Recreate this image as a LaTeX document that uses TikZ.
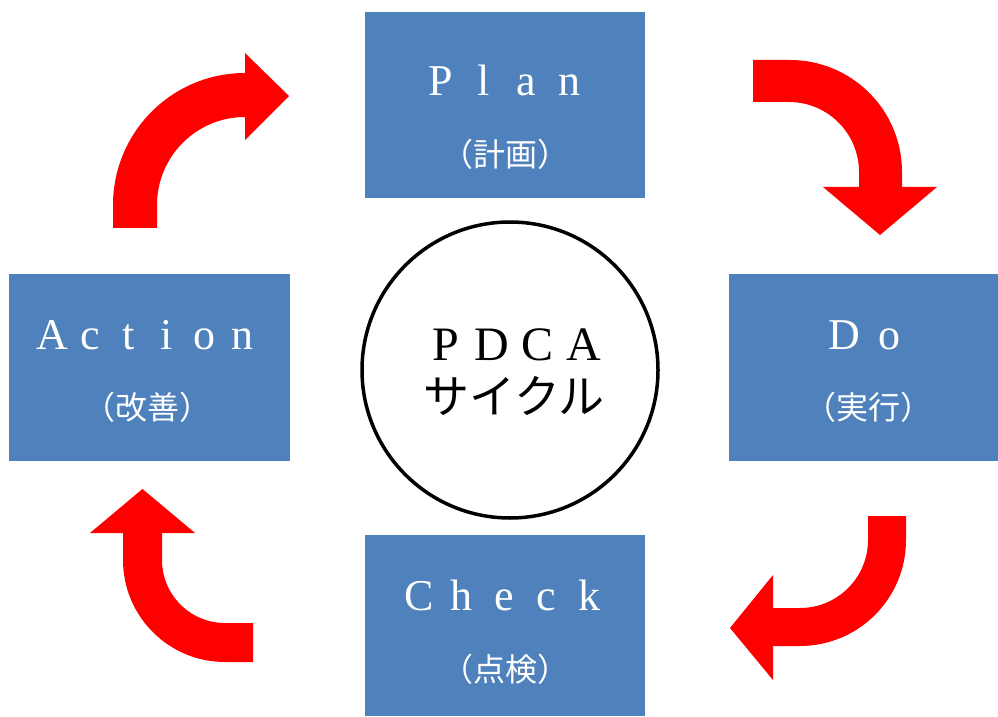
\documentclass[tikz,border=0pt]{standalone}
\usepackage{fontspec}
\setmainfont{Liberation Serif}
\newfontfamily\jpfont{Noto Sans CJK JP}
\definecolor{stageblue}{RGB}{79,129,189}
\definecolor{cyclered}{RGB}{255,0,0}

\newlength\cellw
\def\spreadchars#1{\ifx#1\relax\else\makebox[\cellw]{#1}\expandafter\spreadchars\fi}
\newcommand\spreadword[2]{\setlength\cellw{#1}\spreadchars#2\relax}

\begin{document}
\begin{tikzpicture}[x=1pt,y=1pt,
    stage/.style={fill=stageblue, draw=none, minimum width=280pt, minimum height=186pt, inner sep=0pt},
    entext/.style={text=white, font=\fontsize{44}{44}\selectfont, anchor=base, inner sep=0pt},
    jatext/.style={text=white, font=\jpfont\fontsize{32}{32}\selectfont, inner sep=0pt},
    bigarrow/.style={fill=cyclered, draw=none}]
    \useasboundingbox (0,0) rectangle (998,716);

    % Stages
    \node[stage] (plan) at (505,611) {};
    \node[stage, minimum width=281pt, minimum height=187pt] (action) at (149.5,348.5) {};
    \node[stage, minimum width=269pt, minimum height=187pt] (do) at (863.5,348.5) {};
    \node[stage, minimum height=181pt] (check) at (505,90.5) {};

    \node[entext] (planen) at (505,620) {\spreadword{42.7pt}{Plan}};
    \node[jatext] (planja) at (505,562) {（計画）};
    \node[entext] (actionen) at (147.5,367) {\spreadword{38pt}{Action}};
    \node[jatext] (actionja) at (147.5,308.5) {（改善）};
    \node[entext] (doen) at (867,367) {\spreadword{45pt}{Do}};
    \node[jatext] (doja) at (868,308.5) {（実行）};
    \node[entext] (checken) at (504,106) {\spreadword{42.5pt}{Check}};
    \node[jatext] (checkja) at (505,47) {（点検）};

    % Central circle
    \node[draw, circle, line width=3.5pt, minimum size=296pt, inner sep=0pt] (pdca) at (510,346) {};
    \node[font=\fontsize{48}{48}\selectfont, anchor=base, inner sep=0pt] (pdcaen) at (515,356) {\spreadword{46pt}{PDCA}};
    \node[font=\jpfont\fontsize{46}{46}\selectfont, inner sep=0pt] (pdcaja) at (514,320) {サイクル};

    % Plan -> Do
    \fill[bigarrow] (753,656) -- (790,656) arc[start angle=90, end angle=0, radius=112pt]
        -- (902,529) -- (937,529) -- (880,481) -- (823,529) -- (859,529) -- (859,544)
        arc[start angle=0, end angle=90, radius=70pt] -- (753,614) -- cycle;
    % Do -> Check
    \fill[bigarrow] (868,200) -- (906,200) -- (906,176) arc[start angle=0, end angle=-90, radius=106pt]
        -- (773,70) -- (773,36) -- (730,88) -- (773,141) -- (773,108) -- (800,108)
        arc[start angle=-90, end angle=0, radius=68pt] -- cycle;
    % Check -> Action
    \fill[bigarrow] (253,54) -- (225,54) arc[start angle=270, end angle=180, radius=102pt]
        -- (123,183) -- (90,183) -- (142.5,227) -- (195,183) -- (162,183) -- (162,156)
        arc[start angle=180, end angle=270, radius=63pt] -- (253,93) -- cycle;
    % Action -> Plan
    \fill[bigarrow] (113,488) -- (113,511) arc[start angle=180, end angle=90, radius=132pt]
        -- (245,663) -- (289,620) -- (245,576) -- (245,599)
        arc[start angle=90, end angle=180, radius=88pt] -- (157,488) -- cycle;
\end{tikzpicture}
\end{document}
